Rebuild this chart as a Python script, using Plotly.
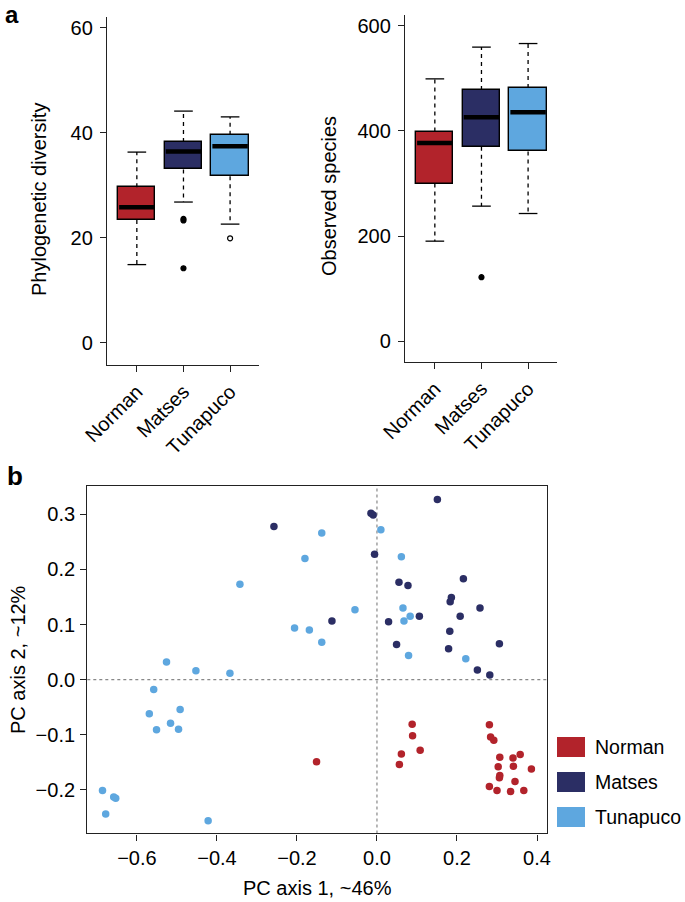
import plotly.graph_objects as go

W, H = 685, 902
FONT = "Liberation Sans, Arial, Helvetica, sans-serif"

# ---------------- data ----------------
groups = ["Norman", "Matses", "Tunapuco"]
colors = ["#B2232B", "#2B2E64", "#5EA7DF"]

# Panel a, left: phylogenetic diversity
pd_low = [14.9, 26.8, 22.6]
pd_q1 = [23.4, 33.0, 31.7]
pd_med = [25.8, 36.4, 37.4]
pd_q3 = [29.6, 38.2, 39.6]
pd_high = [36.3, 44.1, 43.0]
pd_out_group = ["Matses", "Matses", "Matses", "Tunapuco"]
pd_out_val = [23.6, 23.3, 14.2, 19.9]
pd_ticks = [0, 20, 40, 60]

# Panel a, right: observed species
os_low = [190.5, 257, 243]
os_q1 = [300, 369.6, 360.8]
os_med = [377, 426, 435.5]
os_q3 = [398.7, 477.8, 481.6]
os_high = [498.7, 559, 565.8]
os_out_group = ["Matses"]
os_out_val = [122]
os_ticks = [0, 200, 400, 600]

# Panel b: PCoA
norman_pc1 = [-0.151, 0.088, 0.089, 0.061, 0.108, 0.056, 0.281, 0.284, 0.292, 0.307, 0.340,
              0.358, 0.303, 0.341, 0.386, 0.307, 0.306, 0.345, 0.281, 0.300, 0.334, 0.367]
norman_pc2 = [-0.149, -0.081, -0.102, -0.135, -0.128, -0.154, -0.082, -0.104, -0.110, -0.141, -0.142,
              -0.136, -0.158, -0.157, -0.162, -0.174, -0.178, -0.185, -0.194, -0.201, -0.203, -0.201]
matses_pc1 = [-0.2575, -0.015, -0.0095, -0.006, -0.1125, 0.151, 0.055, 0.0775, 0.216, 0.186, 0.183,
              0.2575, 0.106, 0.208, 0.029, 0.182, 0.049, 0.179, 0.306, 0.251, 0.282]
matses_pc2 = [0.278, 0.302, 0.299, 0.2275, 0.1065, 0.327, 0.177, 0.171, 0.183, 0.149, 0.1415,
              0.130, 0.115, 0.115, 0.105, 0.088, 0.064, 0.056, 0.065, 0.0175, 0.0085]
tuna_pc1 = [-0.138, -0.180, -0.3425, -0.055, -0.206, -0.169, -0.138, -0.526, -0.4525, -0.3675,
            -0.558, -0.569, -0.492, -0.516, -0.551, -0.496, 0.0098, 0.061, 0.065, 0.083, 0.0675,
            0.079, 0.222, -0.686, -0.658, -0.653, -0.678, -0.422]
tuna_pc2 = [0.266, 0.220, 0.173, 0.127, 0.094, 0.090, 0.068, 0.032, 0.016, 0.0115,
            -0.018, -0.062, -0.054, -0.079, -0.091, -0.090, 0.272, 0.223, 0.130, 0.115, 0.1065,
            0.044, 0.038, -0.201, -0.213, -0.215, -0.244, -0.256]
pc1_ticks = [-0.6, -0.4, -0.2, 0.0, 0.2, 0.4]
pc2_ticks = [-0.2, -0.1, 0.0, 0.1, 0.2, 0.3]

# ---------------- helpers ----------------
def px(x):
    return x / W

def py(y):
    return 1 - y / H

BOXW = 0.8
CAPW = 0.4

fig = go.Figure()

def add_boxes(xa, ya, low, q1, med, q3, high, out_group, out_val, hollow=()):
    pos = list(range(1, len(groups) + 1))
    # whiskers (dashed)
    wx, wy = [], []
    for i, p in enumerate(pos):
        wx += [p, p, None, p, p, None]
        wy += [q3[i], high[i], None, q1[i], low[i], None]
    fig.add_trace(go.Scatter(x=wx, y=wy, mode="lines", xaxis=xa, yaxis=ya,
                             line=dict(color="black", width=1.3, dash="4px,4px"),
                             showlegend=False, hoverinfo="skip"))
    # caps
    cx, cy = [], []
    for i, p in enumerate(pos):
        cx += [p - CAPW / 2, p + CAPW / 2, None, p - CAPW / 2, p + CAPW / 2, None]
        cy += [high[i], high[i], None, low[i], low[i], None]
    fig.add_trace(go.Scatter(x=cx, y=cy, mode="lines", xaxis=xa, yaxis=ya,
                             line=dict(color="black", width=1.3),
                             showlegend=False, hoverinfo="skip"))
    # boxes
    fig.add_trace(go.Bar(x=pos, y=[q3[i] - q1[i] for i in range(len(pos))], base=q1,
                         width=BOXW, xaxis=xa, yaxis=ya,
                         marker=dict(color=colors, line=dict(color="black", width=1.4)),
                         showlegend=False, hoverinfo="skip"))
    # medians
    mx, my = [], []
    for i, p in enumerate(pos):
        mx += [p - BOXW / 2 + 0.02, p + BOXW / 2 - 0.02, None]
        my += [med[i], med[i], None]
    fig.add_trace(go.Scatter(x=mx, y=my, mode="lines", xaxis=xa, yaxis=ya,
                             line=dict(color="black", width=4.5),
                             showlegend=False, hoverinfo="skip"))
    # outliers
    ox = [groups.index(g) + 1 for g in out_group]
    sym = ["circle-open" if g in hollow else "circle" for g in out_group]
    fig.add_trace(go.Scatter(x=ox, y=out_val, mode="markers", xaxis=xa, yaxis=ya,
                             marker=dict(color="black", size=5, symbol=sym,
                                         line=dict(color="black", width=1.2)),
                             showlegend=False, hoverinfo="skip"))

add_boxes("x", "y", pd_low, pd_q1, pd_med, pd_q3, pd_high, pd_out_group, pd_out_val,
          hollow=("Tunapuco",))
add_boxes("x2", "y2", os_low, os_q1, os_med, os_q3, os_high, os_out_group, os_out_val)

# scatter
for name, xs, ys, c in [("Norman", norman_pc1, norman_pc2, colors[0]),
                        ("Matses", matses_pc1, matses_pc2, colors[1]),
                        ("Tunapuco", tuna_pc1, tuna_pc2, colors[2])]:
    fig.add_trace(go.Scatter(x=xs, y=ys, mode="markers", xaxis="x3", yaxis="y3", name=name,
                             marker=dict(color=c, size=7.5), showlegend=False))

tickfont = dict(family=FONT, size=20, color="black")

box_x_common = dict(range=[0.36, 3.62], tickvals=[1, 2, 3], ticktext=groups,
                    tickangle=-45, showline=True, linecolor="#222", linewidth=1.4,
                    ticks="outside", ticklen=6, tickwidth=1.3, tickcolor="#222",
                    showgrid=False, zeroline=False, tickfont=tickfont, automargin=False,
                    fixedrange=True)
box_y_common = dict(showline=True, linecolor="#222", linewidth=1.4,
                    ticks="outside", ticklen=6, tickwidth=1.3, tickcolor="#222",
                    showgrid=False, zeroline=False, tickfont=tickfont, automargin=False,
                    ticklabelstandoff=3)

layout = dict(
    width=W, height=H, margin=dict(l=0, r=0, t=0, b=0),
    paper_bgcolor="white", plot_bgcolor="white",
    font=dict(family=FONT, size=20, color="black"),
    showlegend=False, bargap=0,
    xaxis=dict(domain=[px(107), px(259)], anchor="y", **box_x_common),
    yaxis=dict(domain=[py(365), py(17)], anchor="x", range=[-4.2, 62], tickvals=pd_ticks,
               **box_y_common),
    xaxis2=dict(domain=[px(405), px(557)], anchor="y2", **box_x_common),
    yaxis2=dict(domain=[py(362), py(15)], anchor="x2", range=[-39, 620], tickvals=os_ticks,
                **box_y_common),
    xaxis3=dict(domain=[px(87.3), px(547)], anchor="y3", range=[-0.724, 0.425],
                tickvals=pc1_ticks, tickformat=".1f", showline=True, mirror=True,
                linecolor="#222", linewidth=1.4, ticks="outside", ticklen=6, tickwidth=1.3,
                tickcolor="#222", showgrid=False, zeroline=False, tickfont=tickfont,
                automargin=False, ticklabelstandoff=0),
    yaxis3=dict(domain=[py(833.4), py(486)], anchor="x3", range=[-0.279, 0.3515],
                tickvals=pc2_ticks, tickformat=".1f", showline=True, mirror=True,
                linecolor="#222", linewidth=1.4, ticks="outside", ticklen=6, tickwidth=1.3,
                tickcolor="#222", showgrid=False, zeroline=False, tickfont=tickfont,
                automargin=False, ticklabelstandoff=1),
)
fig.update_layout(**layout)

# dotted reference lines at zero
fig.add_shape(type="line", xref="x3", yref="y3 domain", x0=0, x1=0, y0=0, y1=1,
              line=dict(color="#888", width=1.2, dash="dot"), layer="below")
fig.add_shape(type="line", xref="x3 domain", yref="y3", x0=0, x1=1, y0=0, y1=0,
              line=dict(color="#888", width=1.2, dash="dot"), layer="below")

def note(text, x, y, size=20, angle=0, xanchor="center", yanchor="middle"):
    return dict(text=text, x=px(x), y=py(y), xref="paper", yref="paper",
                xanchor=xanchor, yanchor=yanchor, textangle=angle, showarrow=False,
                borderpad=0, font=dict(size=size, family=FONT, color="black"))

ann = [
    note("<b>a</b>", 12, 0, size=24, yanchor="top"),
    note("<b>b</b>", 15, 476, size=26),
    note("Phylogenetic diversity", 39, 200, angle=-90),
    note("Observed species", 329, 196, angle=-90),
    note("PC axis 1, ~46%", 317, 888),
    note("PC axis 2, ~12%", 18, 660, angle=-90),
]

# legend drawn as swatches + labels
leg_y = [747, 782, 817]
for name, c, yc in zip(groups, colors, leg_y):
    fig.add_shape(type="rect", xref="paper", yref="paper", x0=px(557), x1=px(585),
                  y0=py(yc + 10), y1=py(yc - 10), fillcolor=c, line=dict(width=0))
    ann.append(note(name, 594, yc, size=19.5, xanchor="left"))

fig.update_layout(annotations=ann)
fig.write_html("out.html", config={"displayModeBar": False},
               post_script="document.body.style.margin='0px';")
